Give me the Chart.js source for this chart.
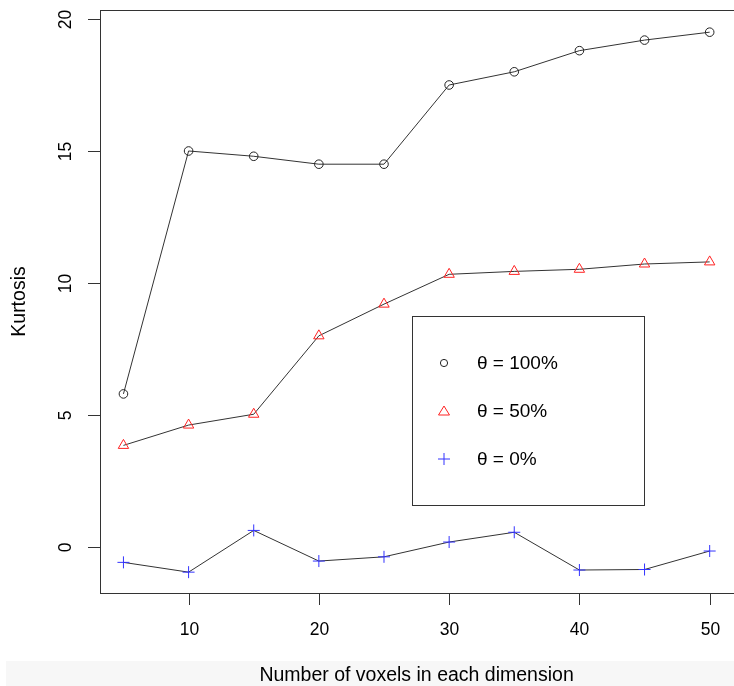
<!DOCTYPE html>
<html>
<head>
<meta charset="utf-8">
<script src="https://cdn.jsdelivr.net/npm/chart.js@4/dist/chart.umd.min.js"></script>
<style>
  html, body { margin: 0; padding: 0; background: #fff; overflow: hidden; }
  canvas { display: block; }
</style>
</head>
<body>
<canvas id="Kurtosis_Chart" width="734" height="686"></canvas>
<script>
// voxel counts per dimension
var voxels = [5, 10, 15, 20, 25, 30, 35, 40, 45, 50];
var theta100 = [5.8, 15.0, 14.8, 14.5, 14.5, 17.5, 18.0, 18.8, 19.2, 19.5];
var theta50 = [3.85, 4.62, 5.03, 8.0, 9.2, 10.33, 10.44, 10.52, 10.72, 10.8];
var theta0 = [-0.58, -0.95, 0.63, -0.53, -0.37, 0.19, 0.56, -0.87, -0.85, -0.15];
var xTicks = [10, 20, 30, 40, 50];
var yTicks = [0, 5, 10, 15, 20];

var FONT = '"Liberation Sans", Arial, Helvetica, sans-serif';

function pts(ys) {
    return voxels.map(function (x, i) { return { x: x, y: ys[i] }; });
}

function series(label, ys, color, style, radius) {
    return {
        label: label,
        data: pts(ys),
        showLine: true,
        borderColor: '#333',
        borderWidth: 1,
        pointStyle: style,
        pointRadius: radius,
        pointBorderColor: color,
        pointBackgroundColor: 'rgba(0,0,0,0)',
        pointBorderWidth: 1,
        lineTension: 0
    };
}

// axes, ticks, titles and legend box drawn R style
var rPlot = {
    id: 'rPlot',
    beforeDraw: function (chart) {
        var ctx = chart.ctx;
        ctx.save();
        ctx.fillStyle = '#f7f7f7';
        ctx.fillRect(6, 661, 728, 25);
        ctx.restore();
    },
    afterDraw: function (chart) {
        var ctx = chart.ctx, a = chart.chartArea;
        var xs = chart.scales.x, ys = chart.scales.y;
        ctx.save();
        ctx.strokeStyle = '#333';
        ctx.lineWidth = 1;
        // the plot box runs past the right edge of the picture
        ctx.strokeRect(Math.round(a.left) + 0.5, Math.round(a.top) + 0.5,
            Math.round(a.right - a.left) + 10, Math.round(a.bottom - a.top));

        ctx.fillStyle = '#000';
        ctx.font = '17.5px ' + FONT;

        // x ticks
        ctx.textAlign = 'center';
        ctx.textBaseline = 'middle';
        xTicks.forEach(function (v) {
            var px = Math.round(xs.getPixelForValue(v)) + 0.5;
            ctx.beginPath();
            ctx.moveTo(px, a.bottom);
            ctx.lineTo(px, a.bottom + 12);
            ctx.stroke();
            ctx.fillText(String(v), px, a.bottom + 37);
        });

        // y ticks, rotated labels
        yTicks.forEach(function (v) {
            var py = Math.round(ys.getPixelForValue(v)) + 0.5;
            ctx.beginPath();
            ctx.moveTo(a.left - 12, py);
            ctx.lineTo(a.left, py);
            ctx.stroke();
            ctx.save();
            ctx.translate(66, py);
            ctx.rotate(-Math.PI / 2);
            ctx.fillText(String(v), 0, 0);
            ctx.restore();
        });

        // titles
        ctx.font = '19.5px ' + FONT;
        ctx.fillText('Number of voxels in each dimension', xs.getPixelForValue(27.5), 676);
        ctx.save();
        ctx.translate(20, (a.top + a.bottom) / 2);
        ctx.rotate(-Math.PI / 2);
        ctx.fillText('Kurtosis', 0, 0);
        ctx.restore();

        // legend
        ctx.strokeRect(412.5, 316.5, 232, 189);
        ctx.textAlign = 'left';
        ctx.font = '19px ' + FONT;
        chart.data.datasets.forEach(function (ds, i) {
            var cy = 363 + i * 48, cx = 444;
            ctx.strokeStyle = ds.pointBorderColor;
            ctx.beginPath();
            if (ds.pointStyle === 'circle') {
                ctx.arc(cx, cy, 3.6, 0, Math.PI * 2);
            } else if (ds.pointStyle === 'triangle') {
                ctx.moveTo(cx, cy - 5);
                ctx.lineTo(cx + 5.5, cy + 4);
                ctx.lineTo(cx - 5.5, cy + 4);
                ctx.closePath();
            } else {
                ctx.moveTo(cx - 6, cy); ctx.lineTo(cx + 6, cy);
                ctx.moveTo(cx, cy - 6); ctx.lineTo(cx, cy + 6);
            }
            ctx.stroke();
            ctx.fillText(ds.label, 477, cy + 1);
        });
        ctx.restore();
    }
};

new Chart(document.getElementById('Kurtosis_Chart').getContext('2d'), {
    type: 'scatter',
    data: {
        datasets: [
            series('θ = 100%', theta100, '#222', 'circle', 4.3),
            series('θ = 50%', theta50, '#f22', 'triangle', 6),
            series('θ = 0%', theta0, '#33f', 'cross', 6)
        ]
    },
    options: {
        responsive: false,
        animation: false,
        layout: { padding: { left: 100, right: 0, top: 10, bottom: 93 } },
        plugins: { legend: { display: false }, tooltip: { enabled: false } },
        scales: {
            x: { type: 'linear', min: 3.2, max: 51.33, display: false },
            y: { type: 'linear', min: -1.74, max: 20.34, display: false }
        }
    },
    plugins: [rPlot]
});
</script>
</body>
</html>
